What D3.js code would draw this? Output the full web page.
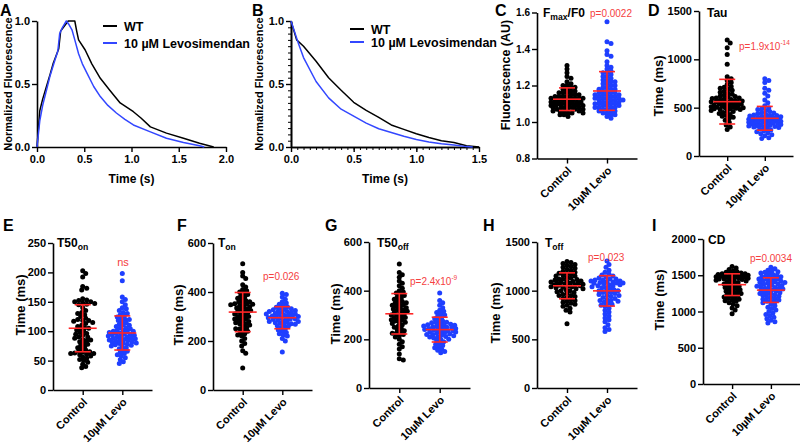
<!DOCTYPE html>
<html><head><meta charset="utf-8">
<script src="https://cdn.jsdelivr.net/npm/d3@7"></script>
<style>
body{margin:0;background:#fff}
svg{display:block}
</style>
</head><body>
<svg width="800" height="443"></svg>
<script>
// ---------------- DATA ----------------
const categories = ["Control", "10µM Levo"];
const legendLabels = ["WT", "10 µM Levosimendan"];

// Panel A: calcium transient (normalized)
const aTimeWT = [0,0.03,0.06,0.10,0.14,0.17,0.20,0.23,0.25,0.28,0.30,0.33,0.40,0.42,0.44,0.51,0.58,0.67,0.77,0.88,1.02,1.10,1.20,1.37,1.55,1.72,1.87];
const aValWT  = [0,0.29,0.38,0.48,0.58,0.66,0.72,0.78,0.92,0.95,0.97,1.0,1.0,0.92,0.85,0.77,0.66,0.545,0.45,0.35,0.28,0.23,0.16,0.11,0.07,0.03,0];
const aTimeLevo = [0,0.03,0.06,0.10,0.14,0.19,0.22,0.24,0.27,0.31,0.34,0.37,0.40,0.44,0.48,0.53,0.60,0.67,0.75,0.84,0.93,1.02,1.20,1.37,1.55,1.72,1.77];
const aValLevo  = [0,0.21,0.33,0.45,0.57,0.69,0.76,0.90,0.95,1.0,0.97,0.93,0.85,0.74,0.66,0.585,0.48,0.40,0.33,0.27,0.22,0.175,0.12,0.07,0.035,0.01,0];

// Panel B: decay phase (normalized)
const bTimeWT = [0,0.045,0.10,0.20,0.30,0.40,0.50,0.60,0.70,0.80,0.90,1.00,1.10,1.20,1.30,1.40,1.50];
const bValWT  = [1.0,0.85,0.80,0.68,0.55,0.45,0.355,0.29,0.235,0.175,0.14,0.105,0.075,0.05,0.035,0.01,0];
const bTimeLevo = [0,0.04,0.06,0.10,0.20,0.30,0.40,0.50,0.60,0.70,0.80,0.90,1.00,1.10,1.20,1.30,1.40,1.45];
const bValLevo  = [1.0,0.88,0.82,0.71,0.52,0.39,0.30,0.245,0.19,0.145,0.115,0.085,0.06,0.04,0.025,0.015,0.003,0];

// Panel C: Fmax/F0
const fmaxControl = [1.31,1.29,1.27,1.25,1.24,1.22,1.21,1.20,1.20,1.19,1.19,1.18,1.18,1.17,1.17,1.16,1.16,1.16,1.15,1.15,1.15,1.14,1.14,1.14,1.13,1.13,1.13,1.13,1.12,1.12,1.12,1.12,1.11,1.11,1.11,1.11,1.10,1.10,1.10,1.10,1.10,1.09,1.09,1.09,1.09,1.08,1.08,1.08,1.08,1.07,1.07,1.07,1.06,1.06,1.06,1.05,1.05,1.04,1.04,1.03,1.12,1.10,1.09,1.11,1.07,1.13,1.08,1.06,1.05,1.14];
const fmaxLevo = [1.55,1.44,1.43,1.39,1.37,1.36,1.33,1.31,1.30,1.29,1.28,1.27,1.27,1.26,1.25,1.24,1.23,1.23,1.22,1.21,1.21,1.20,1.20,1.19,1.19,1.18,1.18,1.17,1.17,1.16,1.16,1.16,1.15,1.15,1.15,1.14,1.14,1.13,1.13,1.13,1.12,1.12,1.12,1.11,1.11,1.11,1.10,1.10,1.10,1.09,1.09,1.09,1.08,1.08,1.08,1.07,1.07,1.06,1.06,1.05,1.05,1.04,1.04,1.03,1.02,1.14,1.12,1.10,1.08,1.18,1.22,1.25,1.06,1.15,1.13];
const fmaxMean = [1.125, 1.17];
const fmaxSD = [0.062, 0.106];

// Panel D: Tau
const tauControl = [1200,1170,1120,1050,950,820,800,780,760,740,720,710,700,690,680,670,660,650,640,630,620,615,610,600,595,590,585,580,575,570,565,560,555,550,545,540,535,530,525,520,515,510,505,500,495,490,485,480,470,460,450,440,430,420,410,400,390,370,350,320,300,275,540,520,500,480,560,600,460,510];
const tauLevo = [800,780,760,700,680,650,620,580,550,520,500,490,480,470,460,450,445,440,430,425,420,415,410,405,400,395,390,385,380,375,370,365,360,355,350,345,340,335,330,325,320,315,310,305,300,295,290,280,270,260,250,240,230,220,210,190,180,380,360,340,400,420,350,330,370,390,310,300,360,380];
const tauMean = [562, 390];
const tauSD = [231, 123];

// Panel E: T50on
const t50onControl = [203,198,192,176,173,170,155,153,152,150,148,147,146,145,140,135,132,128,125,122,120,118,117,115,113,110,108,106,104,102,100,98,96,95,93,90,88,86,84,82,80,78,76,74,72,70,68,66,65,64,63,62,61,60,58,56,54,52,50,47,44,40,38,118,90,130,105,62,150,85];
const t50onLevo = [198,186,158,154,150,145,140,138,135,132,130,128,126,124,122,120,118,116,114,112,110,108,106,105,104,102,101,100,99,98,97,96,95,94,93,92,91,90,89,88,87,86,85,84,83,82,81,80,79,78,77,76,75,74,72,70,68,66,64,62,60,58,55,52,48,45,100,95,90,110,85,120,80];
const t50onMean = [105, 97];
const t50onSD = [40, 29];

// Panel F: Ton
const tonControl = [515,480,465,455,430,420,410,405,400,395,390,385,380,375,370,365,360,355,352,350,348,345,340,335,330,325,320,315,310,305,300,295,290,285,280,275,270,265,260,255,250,245,240,235,230,225,220,210,200,190,180,160,150,90,350,330,310,290,340,360,280,320,300,270,250];
const tonLevo = [395,390,380,370,360,355,350,345,340,338,335,332,330,328,325,322,320,318,315,312,310,308,305,302,300,298,295,292,290,288,285,282,280,278,275,272,270,268,265,262,260,255,250,245,240,235,230,225,220,210,200,155,300,310,290,280,320,305,295];
const tonMean = [318, 295];
const tonSD = [80, 45];

// Panel G: T50off
const t50offControl = [510,475,465,455,440,430,420,410,400,395,390,385,380,375,370,365,360,355,350,345,340,335,330,325,320,315,310,305,300,295,290,285,280,275,270,265,260,255,250,245,240,235,230,225,220,215,210,200,190,180,170,160,140,120,115,330,310,290,340,300,270,320,350,280,225];
const t50offLevo = [390,360,350,340,330,320,315,310,305,300,295,290,285,280,275,270,268,265,262,260,258,255,252,250,248,245,242,240,238,235,232,230,228,225,222,220,218,215,212,210,205,200,195,190,185,180,175,170,165,160,155,150,145,240,250,230,260,220,245,235,255,210,270,200];
const t50offMean = [305, 240];
const t50offSD = [83, 51];

// Panel H: Toff
const toffControl = [1300,1290,1280,1270,1260,1250,1240,1230,1220,1210,1200,1190,1180,1170,1160,1150,1140,1130,1120,1115,1110,1100,1095,1090,1085,1080,1075,1070,1065,1060,1055,1050,1045,1040,1035,1030,1020,1010,1000,990,980,970,960,950,940,930,920,910,900,890,880,870,860,850,840,820,800,780,660,1100,1080,1060,1040,1120,1000,950,1150,1180,1020];
const toffLevo = [1305,1270,1240,1210,1190,1170,1160,1150,1140,1130,1120,1110,1100,1095,1090,1085,1080,1075,1070,1060,1050,1040,1030,1020,1010,1000,990,980,970,960,950,940,930,920,910,900,890,880,870,860,850,840,820,800,780,760,740,720,700,680,650,620,600,580,1100,1080,1050,1000,1120,1060,950,900,1110,1030,980];
const toffMean = [1050, 998];
const toffSD = [133, 156];

// Panel I: CD
const cdControl = [1620,1600,1580,1560,1550,1540,1530,1520,1510,1500,1495,1490,1485,1480,1475,1470,1460,1450,1440,1430,1420,1410,1400,1390,1380,1370,1360,1350,1340,1330,1320,1310,1300,1290,1280,1270,1260,1250,1240,1230,1220,1210,1200,1190,1180,1170,1160,1150,1140,1120,1100,1080,1050,1020,970,1480,1500,1460,1520,1440,1490,1470,1510,1450,1530,1420];
const cdLevo = [1610,1590,1570,1560,1550,1540,1530,1520,1510,1500,1490,1480,1470,1460,1450,1440,1430,1420,1410,1400,1390,1380,1370,1360,1350,1340,1330,1320,1310,1300,1290,1280,1270,1260,1250,1240,1230,1220,1210,1200,1190,1180,1170,1160,1150,1140,1130,1120,1100,1080,1060,1040,1020,1000,980,960,940,920,900,880,860,840,1450,1400,1350,1420,1380,1300,1250,1480,1320];
const cdMean = [1370, 1295];
const cdSD = [150, 170];

// ---------------- DRAWING ----------------
const FONT = "'Liberation Sans', Arial, Helvetica, sans-serif";
const RED = "#ff2626", PRED = "#f5413f", BLUE = "#1f3fff", LBLUE = "#3347ff";
const svg = d3.select("svg").attr("font-family", FONT);

function styleAxis(g, fs) {
  g.attr("font-family", FONT).attr("font-size", fs || 11).attr("font-weight", "bold");
  g.select(".domain").attr("stroke-width", 1.6).attr("stroke", "#000");
  g.selectAll(".tick line").attr("stroke-width", 1.4).attr("stroke", "#000");
  g.selectAll(".tick text").attr("fill", "#000");
}

function label(x, y, txt, opts = {}) {
  return svg.append("text").attr("x", x).attr("y", y).text(txt)
    .attr("font-size", opts.size || 12).attr("font-weight", opts.weight || "bold")
    .attr("fill", opts.fill || "#000").attr("text-anchor", opts.anchor || "start");
}

function vTitle(x, y, txt, size) {
  svg.append("text").attr("transform", `translate(${x},${y}) rotate(-90)`)
    .attr("text-anchor", "middle").attr("font-size", size).attr("font-weight", "bold").text(txt);
}

// ---- trace panels ----
function tracePanel(cfg) {
  const x = d3.scaleLinear().domain(cfg.xdom).range([cfg.x0, cfg.x1]);
  const y = d3.scaleLinear().domain([0, 1]).range([cfg.y0, cfg.y1]);
  if (cfg.minor) {
    const mx = svg.append("g").attr("transform", `translate(0,${cfg.y0})`)
      .call(d3.axisBottom(x).tickValues(d3.range(0, cfg.xdom[1] + 1e-6, 0.05)).tickSize(3).tickFormat("").tickSizeOuter(0));
    styleAxis(mx);
    mx.selectAll(".tick line").attr("stroke-width", 1);
    const my = svg.append("g").attr("transform", `translate(${cfg.x0},0)`)
      .call(d3.axisLeft(y).tickValues(d3.range(0, 1.0001, 0.05)).tickSize(3).tickFormat("").tickSizeOuter(0));
    styleAxis(my);
    my.selectAll(".tick line").attr("stroke-width", 1);
  }
  const gx = svg.append("g").attr("transform", `translate(0,${cfg.y0})`)
    .call(d3.axisBottom(x).tickValues(cfg.xticks).tickFormat(d3.format(".1f")).tickSize(5).tickSizeOuter(0).tickPadding(3));
  styleAxis(gx);
  const gy = svg.append("g").attr("transform", `translate(${cfg.x0},0)`)
    .call(d3.axisLeft(y).tickValues([0, 0.5, 1]).tickFormat(d3.format(".1f")).tickSize(5).tickSizeOuter(0).tickPadding(2));
  styleAxis(gy);

  const line = d3.line().x(d => x(d[0])).y(d => y(d[1]));
  svg.append("path").datum(d3.zip(cfg.tWT, cfg.vWT)).attr("d", line)
    .attr("fill", "none").attr("stroke", "#000").attr("stroke-width", 1.5).attr("stroke-linejoin", "round");
  svg.append("path").datum(d3.zip(cfg.tL, cfg.vL)).attr("d", line)
    .attr("fill", "none").attr("stroke", LBLUE).attr("stroke-width", 1.5).attr("stroke-linejoin", "round");

  // legend
  [["#000", legendLabels[0]], [LBLUE, legendLabels[1]]].forEach((d, i) => {
    const yy = cfg.legY + i * cfg.legDy;
    svg.append("line").attr("x1", cfg.legX).attr("x2", cfg.legX + 14).attr("y1", yy).attr("y2", yy)
      .attr("stroke", d[0]).attr("stroke-width", 2);
    label(cfg.legX + 21, yy + 4.5, d[1], { size: 12.5 });
  });
  vTitle(cfg.titleX, 84, "Normalized Fluorescence", 11);
  label((cfg.x0 + cfg.x1) / 2, 183, "Time (s)", { size: 12, anchor: "middle" });
}

tracePanel({ xdom: [0, 2], x0: 37, x1: 226, y0: 147, y1: 21, xticks: [0, 0.5, 1, 1.5, 2],
  tWT: aTimeWT, vWT: aValWT, tL: aTimeLevo, vL: aValLevo, legX: 103, legY: 26, legDy: 17, titleX: 12 });
tracePanel({ xdom: [0, 1.5], x0: 291, x1: 479, y0: 147, y1: 21, xticks: [0, 0.5, 1, 1.5], minor: true,
  tWT: bTimeWT, vWT: bValWT, tL: bTimeLevo, vL: bValLevo, legX: 350, legY: 29, legDy: 13, titleX: 263 });

// ---- beeswarm ----
function swarm(vals, y, cx, D, maxW) {
  const placed = [];
  const ys = vals.map(v => y(v)).sort((a, b) => a - b);
  for (const py of ys) {
    let best = null;
    for (let k = 0; k <= maxW * 2; k++) {
      const off = (k % 2 ? 1 : -1) * Math.ceil(k / 2);
      const px = cx + off;
      if (placed.every(p => (p.x - px) ** 2 + (p.y - py) ** 2 >= D * D)) { best = px; break; }
    }
    if (best === null) {
      let bm = -1;
      for (let off = -maxW; off <= maxW; off++) {
        const px = cx + off;
        const m = d3.min(placed, p => (p.x - px) ** 2 + (p.y - py) ** 2);
        if (m > bm) { bm = m; best = px; }
      }
    }
    placed.push({ x: best, y: py });
  }
  return placed;
}

function scatterPanel(cfg, ctrl, levo, mean, sd) {
  const y = d3.scaleLinear().domain(cfg.domain).range([cfg.bottom, cfg.top]);
  const x = d3.scalePoint().domain(categories).range([cfg.ax, cfg.xEnd]).padding(0.75);

  const gx = svg.append("g").attr("transform", `translate(0,${cfg.bottom})`)
    .call(d3.axisBottom(x).tickSize(5).tickSizeOuter(0));
  styleAxis(gx);
  gx.selectAll(".tick text")
    .attr("x", 0).attr("y", 0).attr("dy", "0.35em")
    .attr("transform", "translate(2,10) rotate(-45)")
    .style("text-anchor", "end");

  const gy = svg.append("g").attr("transform", `translate(${cfg.ax},0)`)
    .call(d3.axisLeft(y).tickValues(cfg.ticks).tickFormat(cfg.fmt).tickSize(5).tickSizeOuter(0).tickPadding(2));
  styleAxis(gy, cfg.tickFont);

  [ctrl, levo].forEach((vals, i) => {
    const pts = swarm(vals, y, x(categories[i]), 3.6, 16);
    svg.append("g").selectAll("circle").data(pts).join("circle")
      .attr("cx", d => d.x).attr("cy", d => d.y).attr("r", 2.5)
      .attr("fill", i ? BLUE : "#000");
  });

  // mean ± SD
  categories.forEach((c, i) => {
    const cx = x(c), g = svg.append("g").attr("stroke", RED).attr("stroke-width", 1.6);
    const yt = y(mean[i] + sd[i]), yb = y(mean[i] - sd[i]), ym = y(mean[i]);
    g.append("line").attr("x1", cx).attr("x2", cx).attr("y1", yt).attr("y2", yb);
    g.append("line").attr("x1", cx - 14).attr("x2", cx + 14).attr("y1", ym).attr("y2", ym);
    g.append("line").attr("x1", cx - 8).attr("x2", cx + 8).attr("y1", yt).attr("y2", yt);
    g.append("line").attr("x1", cx - 8).attr("x2", cx + 8).attr("y1", yb).attr("y2", yb);
  });

  vTitle(cfg.titleX, cfg.titleY, cfg.ytitle, cfg.titleSize || 13);
}

function richText(x, y, parts, opts = {}) {
  const t = svg.append("text").attr("x", x).attr("y", y)
    .attr("font-size", opts.size || 12).attr("font-weight", opts.weight || "bold")
    .attr("fill", opts.fill || "#000").attr("text-anchor", opts.anchor || "start");
  parts.forEach(p => {
    const ts = t.append("tspan").text(p.t);
    if (p.sub) ts.attr("font-size", (opts.size || 12) * 0.72).attr("dy", 3);
    if (p.sup) ts.attr("font-size", (opts.size || 12) * 0.65).attr("dy", -5);
    if (p.back) ts.attr("dy", p.back);
  });
  return t;
}

const fmt1 = d3.format(".1f"), fmt0 = d3.format("d");

// C
scatterPanel({ ax: 537, xEnd: 637, top: 12.5, bottom: 158.5, domain: [0.8, 1.6], ticks: [0.8, 1.0, 1.2, 1.4, 1.6], fmt: fmt1,
  tickFont: 10, titleX: 510, titleY: 75, titleSize: 12.5, ytitle: "Fluorescence (AU)" }, fmaxControl, fmaxLevo, fmaxMean, fmaxSD);
richText(543, 17, [{ t: "F" }, { t: "max", sub: true }, { t: "/F0", back: -3 }], { size: 12 });
label(590, 17, "p=0.0022", { size: 10, weight: "normal", fill: PRED });

// D
scatterPanel({ ax: 699, xEnd: 793, top: 11, bottom: 156, domain: [0, 1500], ticks: [0, 500, 1000, 1500], fmt: fmt0,
  titleX: 663, titleY: 86, ytitle: "Time (ms)" }, tauControl, tauLevo, tauMean, tauSD);
label(707, 17, "Tau", { size: 12 });
richText(739, 50, [{ t: "p=1.9x10" }, { t: "-14", sup: true }], { size: 10, weight: "normal", fill: PRED });

// E
scatterPanel({ ax: 53, xEnd: 152, top: 243, bottom: 390, domain: [0, 250], ticks: [0, 50, 100, 150, 200, 250], fmt: fmt0,
  titleX: 25, titleY: 305, ytitle: "Time (ms)" }, t50onControl, t50onLevo, t50onMean, t50onSD);
richText(57, 247, [{ t: "T50" }, { t: "on", sub: true }], { size: 12 });
label(123, 266, "ns", { size: 11, weight: "normal", fill: PRED, anchor: "middle" });

// F
scatterPanel({ ax: 213, xEnd: 312, top: 243, bottom: 390, domain: [0, 600], ticks: [0, 200, 400, 600], fmt: fmt0,
  titleX: 183, titleY: 315, ytitle: "Time (ms)" }, tonControl, tonLevo, tonMean, tonSD);
richText(218, 247, [{ t: "T" }, { t: "on", sub: true }], { size: 12 });
label(263, 280, "p=0.026", { size: 10, weight: "normal", fill: PRED });

// G
scatterPanel({ ax: 369, xEnd: 470, top: 242, bottom: 388, domain: [0, 600], ticks: [0, 200, 400, 600], fmt: fmt0,
  titleX: 340, titleY: 314, ytitle: "Time (ms)" }, t50offControl, t50offLevo, t50offMean, t50offSD);
richText(377, 247, [{ t: "T50" }, { t: "off", sub: true }], { size: 12 });
richText(410, 285, [{ t: "p=2.4x10" }, { t: "-9", sup: true }], { size: 10, weight: "normal", fill: PRED });

// H
scatterPanel({ ax: 537, xEnd: 637, top: 242, bottom: 388, domain: [0, 1500], ticks: [0, 500, 1000, 1500], fmt: fmt0,
  titleX: 500, titleY: 313, ytitle: "Time (ms)" }, toffControl, toffLevo, toffMean, toffSD);
richText(545, 247, [{ t: "T" }, { t: "off", sub: true }], { size: 12 });
label(588, 261, "p=0.023", { size: 10, weight: "normal", fill: PRED });

// I
scatterPanel({ ax: 703, xEnd: 800, top: 239, bottom: 384, domain: [0, 2000], ticks: [0, 500, 1000, 1500, 2000], fmt: fmt0,
  titleX: 664, titleY: 300, ytitle: "Time (ms)" }, cdControl, cdLevo, cdMean, cdSD);
label(708, 244, "CD", { size: 12 });
label(750, 262, "p=0.0034", { size: 10, weight: "normal", fill: PRED });

// panel letters
[["A", 0, 16], ["B", 252, 16], ["C", 495, 16], ["D", 648, 16],
 ["E", 3, 231], ["F", 177, 231], ["G", 325, 231], ["H", 483, 231], ["I", 652, 231]]
  .forEach(d => label(d[1], d[2], d[0], { size: 16 }));
</script>
</body></html>
